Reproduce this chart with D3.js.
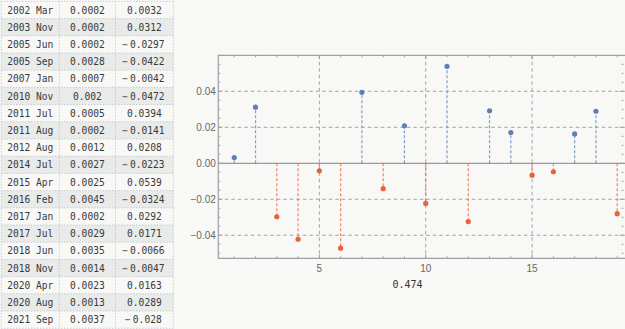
<!DOCTYPE html>
<html><head><meta charset="utf-8">
<script src="https://cdn.jsdelivr.net/npm/d3@7"></script>
<style>
html,body{margin:0;padding:0;background:#f8f8f7;}
svg{display:block;}
</style></head>
<body>
<svg id="c" width="625" height="329"></svg>
<script>
const dates = ["2002 Mar","2003 Nov","2005 Jun","2005 Sep","2007 Jan","2010 Nov","2011 Jul","2011 Aug","2012 Aug","2014 Jul","2015 Apr","2016 Feb","2017 Jan","2017 Jul","2018 Jun","2018 Nov","2020 Apr","2020 Aug","2021 Sep"];
const col2 = ["0.0002","0.0002","0.0002","0.0028","0.0007","0.002","0.0005","0.0002","0.0012","0.0027","0.0025","0.0045","0.0002","0.0029","0.0035","0.0014","0.0023","0.0013","0.0037"];
const values = [0.0032,0.0312,-0.0297,-0.0422,-0.0042,-0.0472,0.0394,-0.0141,0.0208,-0.0223,0.0539,-0.0324,0.0292,0.0171,-0.0066,-0.0047,0.0163,0.0289,-0.028];
const yTickLabels = [-0.04,-0.02,0,0.02,0.04];
const xTickLabels = [5,10,15];
const summary = "0.474";

const svg = d3.select("#c");
const mono = "'DejaVu Sans Mono', monospace";

// ---- table ----
const tblX = [1.3, 59.3, 115.5, 173.3];
const rowH = 17.2, tblTop = 1.4;
const tbl = svg.append("g");
dates.forEach((d,i)=>{
  const y0 = tblTop + i*rowH;
  if (i % 2 === 1) tbl.append("rect").attr("x",tblX[0]).attr("y",y0).attr("width",tblX[3]-tblX[0]).attr("height",rowH).attr("fill","#e9eaea");
  const cells = [d, col2[i], String(values[i])];
  cells.forEach((t,j)=>{
    const cx = (tblX[j]+tblX[j+1])/2;
    const txt = tbl.append("text").attr("x",cx).attr("y",y0+rowH/2+3.5)
      .attr("text-anchor","middle").attr("font-family",mono).attr("font-size","9.6px").attr("fill","#3a3a3a");
    if (t.startsWith("-")) {
      txt.append("tspan").text("\u2212");
      txt.append("tspan").attr("dx","2").text(t.slice(1));
      txt.attr("dx",-1);
    } else txt.text(t);
  });
});
const dotted = {stroke:"#b8b8b8","stroke-width":1,"stroke-dasharray":"1,2"};
for (let i=0;i<=dates.length;i++){
  const y = tblTop + i*rowH;
  const l = tbl.append("line").attr("x1",tblX[0]).attr("x2",tblX[3]).attr("y1",y).attr("y2",y);
  Object.entries(dotted).forEach(([k,v])=>l.attr(k,v));
}
tblX.forEach(x=>{
  const l = tbl.append("line").attr("x1",x).attr("x2",x).attr("y1",tblTop).attr("y2",tblTop+dates.length*rowH);
  Object.entries(dotted).forEach(([k,v])=>l.attr(k,v));
});

// ---- chart ----
const L = 218.3, R = 625.5, T = 55.3, B = 258.3;
const x = d3.scaleLinear().domain([0.25, 19.39]).range([L, R]);
const y = d3.scaleLinear().domain([-0.0528, 0.06]).range([B, T]);
const g = svg.append("g");
const gridC = "#a3a3a3";

// grid
xTickLabels.forEach(v=>{
  g.append("line").attr("x1",x(v)).attr("x2",x(v)).attr("y1",T).attr("y2",B)
   .attr("stroke",gridC).attr("stroke-width",1).attr("stroke-dasharray","3.5,3");
});
yTickLabels.filter(v=>v!==0).forEach(v=>{
  g.append("line").attr("x1",L).attr("x2",R).attr("y1",y(v)).attr("y2",y(v))
   .attr("stroke",gridC).attr("stroke-width",1).attr("stroke-dasharray","3.5,3");
});

// frame
const frameC = "#a0a0a0";
g.append("path").attr("d",`M${R},${T}H${L}V${B}H${R}`).attr("fill","none").attr("stroke",frameC).attr("stroke-width",1.2);
g.append("line").attr("x1",L).attr("x2",R).attr("y1",y(0)).attr("y2",y(0)).attr("stroke","#999").attr("stroke-width",1.2);

// ticks
const minorY = d3.range(-50, 56, 5).map(v=>v/1000);
minorY.forEach(v=>{
  const major = Math.abs(Math.round(v*1000) % 20) === 0;
  const len = major ? 4 : 2;
  g.append("line").attr("x1",L).attr("x2",L+len).attr("y1",y(v)).attr("y2",y(v)).attr("stroke",frameC);
  g.append("line").attr("x1",R-2).attr("x2",R-2-len).attr("y1",y(v)).attr("y2",y(v)).attr("stroke",frameC);
});
d3.range(1,20).forEach(v=>{
  const len = v%5===0 ? 4 : 2;
  g.append("line").attr("x1",x(v)).attr("x2",x(v)).attr("y1",T).attr("y2",T+len).attr("stroke",frameC);
  g.append("line").attr("x1",x(v)).attr("x2",x(v)).attr("y1",B).attr("y2",B-len).attr("stroke",frameC);
});

// tick labels
const fmt = v => (v<0?"\u2212":"") + Math.abs(v).toFixed(2);
yTickLabels.forEach(v=>{
  g.append("text").attr("x",L-2.5).attr("y",y(v)+3.5).attr("text-anchor","end")
   .attr("font-family","'Liberation Sans', Arial, sans-serif").attr("font-size","10px").attr("fill","#666").text(fmt(v));
});
xTickLabels.forEach(v=>{
  g.append("text").attr("x",x(v)).attr("y",B+13.5).attr("text-anchor","middle")
   .attr("font-family","'Liberation Sans', Arial, sans-serif").attr("font-size","10px").attr("fill","#666").text(v);
});

// stems and points
const blue = "#5e81b5", red = "#eb6235";
values.forEach((v,i)=>{
  const c = v>=0 ? blue : red;
  g.append("line").attr("x1",x(i+1)).attr("x2",x(i+1)).attr("y1",y(0)).attr("y2",y(v))
   .attr("stroke",c).attr("stroke-opacity",0.75).attr("stroke-width",1.2).attr("stroke-dasharray","3,2");
});
values.forEach((v,i)=>{
  g.append("circle").attr("cx",x(i+1)).attr("cy",y(v)).attr("r",2.6).attr("fill",v>=0?blue:red);
});

// summary label
svg.append("text").attr("x",407.5).attr("y",288).attr("text-anchor","middle")
  .attr("font-family",mono).attr("font-size","10px").attr("fill","#333").text(summary);
</script>
</body></html>
